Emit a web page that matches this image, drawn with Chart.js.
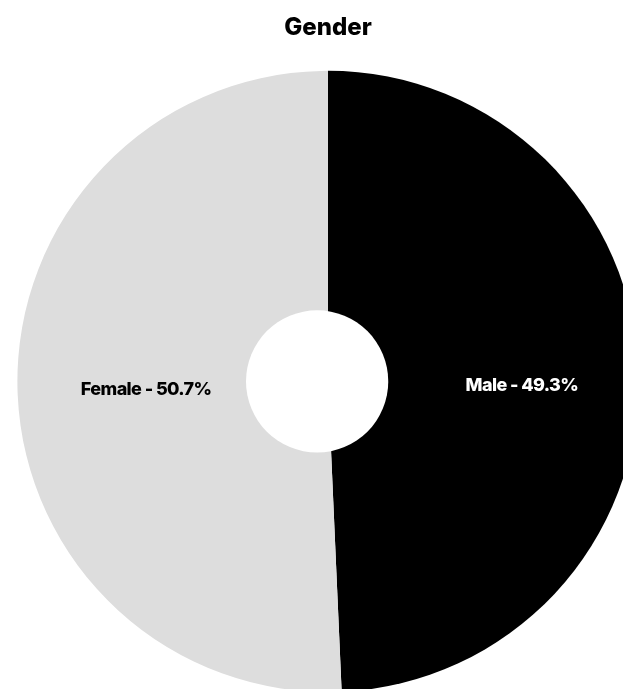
<!DOCTYPE html>
<html>
<head>
<meta charset="utf-8">
<script src="https://cdn.jsdelivr.net/npm/chart.js@4"></script>
<style>
  html, body {margin: 0; padding: 0; background: #fff; overflow: hidden;}
  #wrap {position: absolute; left: 0; top: 0; width: 656px; height: 692px;}
</style>
</head>
<body>
<div id="wrap"><canvas id="chart"></canvas></div>
<script>
const labels = ["Male", "Female"];
const shares = [49.3, 50.7];
const colors = ["#000000", "#dddddd"];
const textColors = ["#ffffff", "#000000"];
const title = "Gender";

const FONT = "Inter, 'Liberation Sans', sans-serif";

// white hole, a bit left of the pie centre like in the original
const holePlugin = {
  id: "hole",
  afterDatasetsDraw(chart) {
    const arc = chart.getDatasetMeta(0).data[0];
    if (!arc) return;
    const {ctx} = chart;
    const r = arc.outerRadius;
    ctx.save();
    ctx.fillStyle = "#ffffff";
    ctx.beginPath();
    ctx.arc(arc.x - r * 0.035, arc.y, r * 0.229, 0, Math.PI * 2);
    ctx.fill();
    ctx.restore();
  },
};

// "Label - xx.x%" inside each slice
const sliceLabels = {
  id: "sliceLabels",
  afterDatasetsDraw(chart) {
    const {ctx} = chart;
    const meta = chart.getDatasetMeta(0);
    ctx.save();
    ctx.font = `800 18px ${FONT}`;
    ctx.letterSpacing = "-0.6px";
    ctx.textAlign = "center";
    ctx.textBaseline = "middle";
    meta.data.forEach((arc, i) => {
      const mid = (arc.startAngle + arc.endAngle) / 2;
      const r = arc.outerRadius * 0.605;
      const x = arc.x + Math.cos(mid) * r + 6;
      const y = arc.y + Math.sin(mid) * r * 0.5 + 6;
      ctx.fillStyle = textColors[i];
      ctx.fillText(`${labels[i]} - ${shares[i]}%`, x, y);
    });
    ctx.restore();
  },
};

new Chart(document.getElementById("chart"), {
  type: "pie",
  data: {
    labels,
    datasets: [{
      data: shares,
      backgroundColor: colors,
      borderWidth: 0,
    }],
  },
  options: {
    responsive: true,
    maintainAspectRatio: false,
    animation: false,
    layout: {padding: 0},
    plugins: {
      legend: {display: false},
      tooltip: {enabled: false},
      title: {
        display: true,
        text: title,
        color: "#000",
        font: {family: FONT, size: 24, weight: 800, lineHeight: 1.2},
        padding: {top: 13, bottom: 29},
      },
    },
  },
  plugins: [holePlugin, sliceLabels],
});
</script>
</body>
</html>
